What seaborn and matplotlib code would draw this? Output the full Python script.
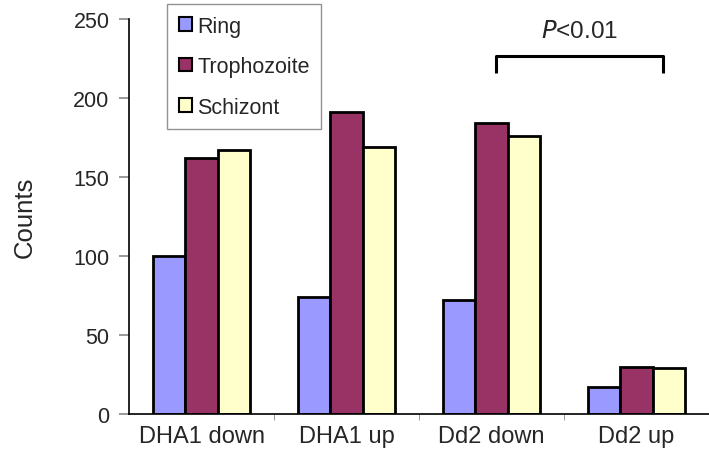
import matplotlib
matplotlib.use("Agg")
import matplotlib.pyplot as plt
import seaborn as sns
import pandas as pd
from matplotlib.patches import Patch

categories = ["DHA1 down", "DHA1 up", "Dd2 down", "Dd2 up"]
stages = ["Ring", "Trophozoite", "Schizont"]
ring = [100, 74, 72, 17]
trophozoite = [162, 191, 184, 30]
schizont = [167, 169, 176, 29]
colors = ["#9999FF", "#993366", "#FFFFCC"]

rows = []
for s, vals in zip(stages, [ring, trophozoite, schizont]):
    for c, v in zip(categories, vals):
        rows.append({"cat": c, "stage": s, "count": v})
df = pd.DataFrame(rows)

sns.set_style("white")
plt.rcParams["font.family"] = ["Liberation Sans", "DejaVu Sans"]

fig = plt.figure(figsize=(7.09, 4.6), dpi=100)
ax = fig.add_axes([0.182, 0.098, 0.818, 0.859])
sns.barplot(data=df, x="cat", y="count", hue="stage", order=categories,
            hue_order=stages, palette=colors, width=0.67, gap=0,
            edgecolor="black", linewidth=2.0, saturation=1, ax=ax, legend=False)

ax.set_ylim(0, 250)
ax.set_xlim(-0.5, 3.5)
ax.set_yticks([0, 50, 100, 150, 200, 250])
ax.tick_params(axis="y", labelsize=15.5, length=7, color="#888888", width=1.2, left=True, pad=7)
ax.tick_params(axis="x", labelsize=17, length=0, pad=8)
ax.set_xticks([0.5, 1.5, 2.5], minor=True)
ax.tick_params(axis="x", which="minor", length=4, color="#888888", bottom=True)
ax.set_xlabel("")
ax.set_ylabel("Counts", fontsize=18.5, labelpad=26)
for sp in ["top", "right"]:
    ax.spines[sp].set_visible(False)
for sp in ["left", "bottom"]:
    ax.spines[sp].set_color("black")
    ax.spines[sp].set_linewidth(1.2)

# significance bracket
ax.plot([2.03, 2.03, 3.18, 3.18], [216, 226.5, 226.5, 216], color="black", lw=2.2,
        clip_on=False, solid_capstyle="butt")
ax.text(2.605, 242, r"$\it{P}$<0.01", ha="center", va="center", fontsize=17.5)

handles = [Patch(facecolor=c, edgecolor="black", linewidth=1.5, label=s) for c, s in zip(colors, stages)]
leg = fig.legend(handles=handles, loc="upper left", bbox_to_anchor=(167 / 709, 1 - 5 / 460),
                 fontsize=15.5, handlelength=0.6, handleheight=0.6, handletextpad=0.25,
                 labelspacing=0.9, borderpad=0.55, frameon=True, fancybox=False,
                 borderaxespad=0)
leg.get_frame().set_edgecolor("#777777")
leg.get_frame().set_linewidth(1.0)

fig.savefig("out.png", dpi=100)
